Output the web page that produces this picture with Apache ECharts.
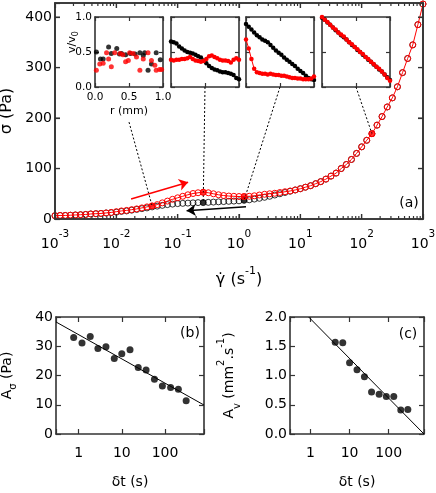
<!DOCTYPE html>
<html>
<head>
<meta charset="utf-8">
<script src="https://cdn.jsdelivr.net/npm/echarts@6/dist/echarts.min.js"></script>
<style>
  html, body { margin: 0; padding: 0; background: #fff; }
  #chart { width: 436px; height: 493px; }
</style>
</head>
<body>
<div id="chart"></div>
<script>
// (a) flow curve: up sweep (red) and down sweep (black)
const shearRate = [
  1e-3, 1.21e-3, 1.47e-3, 1.78e-3, 2.15e-3, 2.61e-3, 3.16e-3, 3.83e-3, 4.64e-3, 5.62e-3, 6.81e-3, 8.25e-3,
  1e-2, 1.21e-2, 1.47e-2, 1.78e-2, 2.15e-2, 2.61e-2, 3.16e-2, 3.83e-2, 4.64e-2, 5.62e-2, 6.81e-2, 8.25e-2,
  0.1, 0.121, 0.147, 0.178, 0.215, 0.261, 0.316, 0.383, 0.464, 0.562, 0.681, 0.825,
  1, 1.21, 1.47, 1.78, 2.15, 2.61, 3.16, 3.83, 4.64, 5.62, 6.81, 8.25,
  10, 12.1, 14.7, 17.8, 21.5, 26.1, 31.6, 38.3, 46.4, 56.2, 68.1, 82.5,
  100, 121, 147, 178, 215, 261, 316, 383, 464, 562, 681, 825,
  1000
];
const stressUp = [
  6.5, 7, 7, 7.5, 8, 8.5, 9, 10, 10.5, 11, 12, 13,
  14.5, 16, 17, 18.5, 20, 22, 24, 26, 28.5, 32, 35.5, 39,
  42, 45, 48, 50.5, 52, 53, 52, 50, 48, 46.5, 45.5, 45,
  44.5, 44.5, 45, 46, 47.5, 49, 50, 51, 52.5, 54, 55.5, 57.5,
  60, 63, 66, 70, 74, 79, 85, 91, 100, 108, 118, 130,
  143, 156, 169, 186, 203, 222, 240, 262, 290, 318, 345, 385,
  426
];
const stressDown = [
  6.5, 7, 7, 7.5, 8, 8.5, 9, 10, 10.5, 11, 12, 12.5,
  13.5, 15, 16, 17.5, 19, 20.5, 22, 24, 25.5, 27, 28.5, 29.5,
  30.5, 31, 31.5, 32, 32.5, 32.5, 33, 33.5, 34, 34.5, 35, 35.5,
  36, 37, 38, 39.5, 41, 43, 45, 47.5, 50, 52.5, 55, 57.5,
  60, 63, 66, 70, 74, 79, 85, 91, 100, 108, 118, 130,
  143, 156, 169, 186, 203, 222, 240, 262, 290, 318, 345, 385,
  426
];
// points whose velocity profiles are shown in the insets
const insetIdx = [19, 29, 37, 62];
const insetOnDown = [false, true, true, false];
// where each dotted connector leaves its inset, in (a) coordinates
const connectorFrom = [[0.0161, 192], [0.279, 261.6], [4.66, 261.6], [80.8, 261.6]];

const upArrow = [[0.0174, 39.6], [0.148, 73]];
const downArrow = [[1.3, 24.4], [0.14, 16.4]];

// insets: v/v0 versus r (mm)
const inset1BlackR = [0.02, 0.08, 0.12, 0.20, 0.24, 0.32, 0.36, 0.39, 0.45, 0.52, 0.59, 0.66, 0.71, 0.73, 0.78, 0.83, 0.90, 0.96];
const inset1BlackV = [0.50, 0.40, 0.40, 0.57, 0.48, 0.55, 0.47, 0.48, 0.46, 0.48, 0.47, 0.49, 0.45, 0.49, 0.24, 0.33, 0.49, 0.39];
const inset1RedR = [0.02, 0.07, 0.12, 0.17, 0.20, 0.24, 0.29, 0.37, 0.41, 0.45, 0.49, 0.51, 0.56, 0.61, 0.66, 0.71, 0.78, 0.83, 0.88, 0.90, 0.95, 0.98];
const inset1RedV = [0.24, 0.33, 0.34, 0.49, 0.40, 0.29, 0.49, 0.48, 0.46, 0.36, 0.38, 0.49, 0.48, 0.43, 0.24, 0.40, 0.49, 0.38, 0.31, 0.24, 0.25, 0.25];

const rProfile = [0, 0.04, 0.08, 0.12, 0.16, 0.2, 0.24, 0.28, 0.32, 0.36, 0.4, 0.44, 0.48, 0.52, 0.56, 0.6, 0.64, 0.68, 0.72, 0.76, 0.8, 0.84, 0.88, 0.92, 0.96, 1];
const inset2Black = [0.65, 0.64, 0.62, 0.58, 0.55, 0.52, 0.50, 0.49, 0.48, 0.46, 0.44, 0.42, 0.38, 0.34, 0.30, 0.27, 0.25, 0.24, 0.22, 0.21, 0.21, 0.20, 0.19, 0.17, 0.13, 0.11];
const inset2Red = [0.39, 0.38, 0.39, 0.39, 0.40, 0.40, 0.41, 0.43, 0.40, 0.38, 0.37, 0.36, 0.37, 0.40, 0.44, 0.45, 0.43, 0.41, 0.39, 0.38, 0.38, 0.37, 0.35, 0.39, 0.41, 0.39];
const inset3Black = [0.90, 0.86, 0.82, 0.78, 0.74, 0.71, 0.68, 0.66, 0.64, 0.60, 0.56, 0.52, 0.49, 0.46, 0.42, 0.39, 0.36, 0.33, 0.30, 0.26, 0.23, 0.20, 0.16, 0.13, 0.11, 0.10];
const inset3Red = [0.68, 0.55, 0.40, 0.26, 0.21, 0.20, 0.19, 0.19, 0.18, 0.19, 0.18, 0.17, 0.17, 0.16, 0.16, 0.15, 0.14, 0.13, 0.13, 0.12, 0.12, 0.11, 0.11, 0.11, 0.12, 0.15];
const inset4Black = [0.99, 0.96, 0.92, 0.89, 0.85, 0.81, 0.78, 0.74, 0.71, 0.68, 0.64, 0.60, 0.57, 0.53, 0.50, 0.46, 0.43, 0.39, 0.36, 0.32, 0.29, 0.25, 0.22, 0.18, 0.14, 0.10];
const inset4Red = [1.0, 0.96, 0.93, 0.89, 0.85, 0.82, 0.78, 0.75, 0.72, 0.68, 0.64, 0.61, 0.57, 0.54, 0.50, 0.47, 0.43, 0.40, 0.36, 0.33, 0.29, 0.26, 0.22, 0.18, 0.13, 0.09];

// (b) and (c): amplitudes versus time window
const deltaT = [0.77, 1.2, 1.86, 2.8, 4.3, 6.7, 10, 15.5, 24, 36.5, 57, 87, 135, 204, 309];
const ampStress = [33.0, 31.1, 33.3, 29.2, 29.8, 25.8, 27.4, 28.8, 22.7, 21.9, 18.7, 16.4, 15.9, 15.3, 11.4];
const deltaTVel = [4.3, 6.7, 10, 15.5, 24, 36.5, 57, 87, 135, 204, 309];
const ampVel = [1.57, 1.56, 1.22, 1.10, 0.98, 0.72, 0.68, 0.64, 0.64, 0.41, 0.42];
const fitStressT = [0.3, 800];
const fitStressA = [38.3, 9.9];
const fitVelT = [0.9, 800];
const fitVelA = [2.0, 0];

// axis ticks of panel (a)
const rateMin = 1e-3;
const rateMax = 1e3;
const decadeStarts = [1e-3, 1e-2, 1e-1, 1, 10, 100, 1000];
const minorSteps = [2, 3, 4, 5, 6, 7, 8, 9];
const stressTicks = [100, 200, 300, 400];

const FONT = "DejaVu Sans";
const INK = "#333";
const RED = "#ff0000";
const STRESS_MAX = 428;

const zip = (xs, ys) => xs.map((x, i) => [x, ys[i]]);

const isDecade = (v) => {
  const e = Math.log10(v);
  return Math.abs(e - Math.round(e)) < 1e-6;
};

// labelled axis plus its mirror (ticks only) for one grid
const axisPair = (dim, gridIndex, spec) => {
  const line = () => ({ show: true, onZero: false, lineStyle: { color: INK, width: 1.6 } });
  const tick = () => ({ show: true, inside: true, length: spec.tickLen || 4, lineStyle: { color: INK, width: 1.2 } });
  const main = Object.assign(
    {
      gridIndex,
      position: dim === "x" ? "bottom" : "left",
      axisLine: line(),
      axisTick: tick(),
      splitLine: { show: false },
      axisLabel: spec.label
        ? Object.assign({ color: "#000", fontFamily: FONT }, spec.label)
        : { show: false }
    },
    spec.scale
  );
  if (spec.name) {
    Object.assign(main, {
      name: spec.name,
      nameLocation: "middle",
      nameGap: spec.nameGap,
      nameRotate: dim === "y" ? 90 : 0,
      nameTextStyle: Object.assign({ color: "#000", fontFamily: FONT }, spec.nameStyle)
    });
  }
  const mirror = Object.assign(
    {
      gridIndex,
      position: dim === "x" ? "top" : "right",
      axisLine: line(),
      axisTick: tick(),
      splitLine: { show: false },
      axisLabel: { show: false }
    },
    spec.scale
  );
  return [main, mirror];
};

const richText = (size, lineHeight) => ({ fontSize: size, lineHeight, fontFamily: FONT, color: "#000" });
const supText = (size) => ({ fontSize: size, lineHeight: 12, verticalAlign: "top", fontFamily: FONT, color: "#000" });
const subText = (size) => ({ fontSize: size, lineHeight: 12, verticalAlign: "bottom", fontFamily: FONT, color: "#000" });

const unitScale = { type: "value", min: 0, max: 1, interval: 0.5 };
const logT = { type: "log", logBase: 10, min: 0.3, max: 800 };

const xAxes = [
  ...axisPair("x", 0, {
    scale: { type: "log", logBase: 10, min: rateMin, max: rateMax },
    tickLen: 5,
    label: {
      margin: 10,
      formatter: (v) => `{b|10}{s|${Math.round(Math.log10(v))}}`,
      rich: { b: richText(14, 30), s: supText(10.5) }
    },
    name: "{t|γ̇ (s}{s|-1}{t|)}",
    nameGap: 47,
    nameStyle: { rich: { t: richText(16, 28), s: supText(11) } }
  }),
  ...axisPair("x", 1, {
    scale: unitScale,
    label: { fontSize: 10.5, margin: 5, formatter: (v) => v.toFixed(1) },
    name: "r (mm)",
    nameGap: 19,
    nameStyle: { fontSize: 11 }
  }),
  ...axisPair("x", 2, { scale: unitScale }),
  ...axisPair("x", 3, { scale: unitScale }),
  ...axisPair("x", 4, { scale: unitScale }),
  ...axisPair("x", 5, {
    scale: logT,
    tickLen: 5,
    label: { fontSize: 14, margin: 12, formatter: (v) => (isDecade(v) ? String(Math.round(v)) : "") },
    name: "δt (s)",
    nameGap: 41,
    nameStyle: { fontSize: 14 }
  }),
  ...axisPair("x", 6, {
    scale: logT,
    tickLen: 5,
    label: { fontSize: 14, margin: 12, formatter: (v) => (isDecade(v) ? String(Math.round(v)) : "") },
    name: "δt (s)",
    nameGap: 41,
    nameStyle: { fontSize: 14 }
  })
];

const yAxes = [
  ...axisPair("y", 0, {
    scale: { type: "value", min: 0, max: STRESS_MAX, interval: 100 },
    tickLen: 5,
    label: { fontSize: 14, margin: 3, formatter: (v) => (v % 100 === 0 ? String(v) : "") },
    name: "σ (Pa)",
    nameGap: 39,
    nameStyle: { fontSize: 16 }
  }),
  ...axisPair("y", 1, {
    scale: unitScale,
    label: { fontSize: 10.5, margin: 3, formatter: (v) => v.toFixed(1) }
  }),
  ...axisPair("y", 2, { scale: unitScale }),
  ...axisPair("y", 3, { scale: unitScale }),
  ...axisPair("y", 4, { scale: unitScale }),
  ...axisPair("y", 5, {
    scale: { type: "value", min: 0, max: 40, interval: 10 },
    tickLen: 5,
    label: { fontSize: 14, margin: 3 },
    name: "{t|A}{b|σ}{t| (Pa)}",
    nameGap: 38,
    nameStyle: { rich: { t: richText(14, 22), b: subText(10) } }
  }),
  ...axisPair("y", 6, {
    scale: { type: "value", min: 0, max: 2, interval: 0.5 },
    tickLen: 5,
    label: { fontSize: 14, margin: 3, formatter: (v) => v.toFixed(1) },
    name: "{t|A}{b|v}{t| (mm}{s|2}{t|.s}{s|-1}{t|)}",
    nameGap: 48,
    nameStyle: { rich: { t: richText(14, 26), b: subText(10), s: supText(10) } }
  })
];

const onGrid = (g) => ({ xAxisIndex: 2 * g, yAxisIndex: 2 * g });

const connector = (k) => {
  const idx = insetIdx[k];
  return Object.assign({}, onGrid(0), {
    type: "line",
    data: [connectorFrom[k], [shearRate[idx], insetOnDown[k] ? stressDown[idx] : stressUp[idx]]],
    symbol: "none",
    lineStyle: { color: "#000", width: 1, type: [2, 2] },
    silent: true
  });
};

const arrowLine = (color, pts) => ({
  silent: true,
  animation: false,
  symbol: ["none", "arrow"],
  symbolSize: 9,
  label: { show: false },
  lineStyle: { color, width: 1.5, type: "solid" },
  data: [[{ coord: pts[0] }, { coord: pts[1] }]]
});

const insetDot = (g, color, rs, vs) =>
  Object.assign({}, onGrid(g), {
    type: "scatter",
    data: zip(rs, vs),
    symbol: "circle",
    symbolSize: 5,
    itemStyle: { color },
    silent: true
  });
const insetLine = (g, color, values) =>
  Object.assign({}, onGrid(g), {
    type: "line",
    data: zip(rProfile, values),
    symbol: "circle",
    symbolSize: 4.5,
    showAllSymbol: true,
    itemStyle: { color },
    lineStyle: { color, width: 1 },
    silent: true
  });

const series = [
  connector(0),
  connector(1),
  connector(2),
  connector(3),
  Object.assign({}, onGrid(0), {
    type: "scatter",
    data: zip(shearRate, stressDown),
    symbol: "circle",
    symbolSize: 6,
    itemStyle: { color: "rgba(0,0,0,0)", borderColor: "#000", borderWidth: 1 },
    silent: true,
    markLine: arrowLine("#000", downArrow)
  }),
  Object.assign({}, onGrid(0), {
    type: "line",
    data: zip(shearRate, stressUp),
    symbol: "circle",
    symbolSize: 6,
    showAllSymbol: true,
    itemStyle: { color: "rgba(255,255,255,0)", borderColor: RED, borderWidth: 1 },
    lineStyle: { color: RED, width: 1 },
    silent: true,
    markLine: arrowLine(RED, upArrow)
  }),
  Object.assign({}, onGrid(0), {
    type: "scatter",
    data: insetIdx.filter((_, k) => insetOnDown[k]).map((i) => [shearRate[i], stressDown[i]]),
    symbol: "circle",
    symbolSize: 6,
    itemStyle: { color: "#000" },
    silent: true
  }),
  Object.assign({}, onGrid(0), {
    type: "scatter",
    data: insetIdx.map((i) => [shearRate[i], stressUp[i]]),
    symbol: "circle",
    symbolSize: 6.5,
    itemStyle: { color: RED },
    silent: true
  }),

  insetDot(1, "#000", inset1BlackR, inset1BlackV),
  insetDot(1, RED, inset1RedR, inset1RedV),
  insetLine(2, "#000", inset2Black),
  insetLine(2, RED, inset2Red),
  insetLine(3, "#000", inset3Black),
  insetLine(3, RED, inset3Red),
  insetLine(4, "#000", inset4Black),
  insetLine(4, RED, inset4Red),

  Object.assign({}, onGrid(5), {
    type: "line",
    data: zip(fitStressT, fitStressA),
    symbol: "none",
    lineStyle: { color: "#000", width: 1 },
    silent: true
  }),
  Object.assign({}, onGrid(5), {
    type: "scatter",
    data: zip(deltaT, ampStress),
    symbol: "circle",
    symbolSize: 7,
    itemStyle: { color: "#000" },
    silent: true
  }),
  Object.assign({}, onGrid(6), {
    type: "line",
    data: zip(fitVelT, fitVelA),
    symbol: "none",
    lineStyle: { color: "#000", width: 1 },
    silent: true
  }),
  Object.assign({}, onGrid(6), {
    type: "scatter",
    data: zip(deltaTVel, ampVel),
    symbol: "circle",
    symbolSize: 7,
    itemStyle: { color: "#000" },
    silent: true
  })
];

const chart = echarts.init(document.getElementById("chart"));

chart.setOption({
  animation: false,
  grid: [
    { left: 55, top: 3, width: 368, height: 216, outerBoundsMode: "none" },
    { left: 95, top: 17, width: 68, height: 70, outerBoundsMode: "none" },
    { left: 171, top: 17, width: 68, height: 70, outerBoundsMode: "none" },
    { left: 246, top: 17, width: 68, height: 70, outerBoundsMode: "none" },
    { left: 322, top: 17, width: 68, height: 70, outerBoundsMode: "none" },
    { left: 56, top: 317, width: 148, height: 117, outerBoundsMode: "none" },
    { left: 290, top: 317, width: 134, height: 117, outerBoundsMode: "none" }
  ],
  xAxis: xAxes,
  yAxis: yAxes,
  series
});

// frame and ticks of panel (a), placed through the panel's own axes
const toPx = (x, y) => chart.convertToPixel(onGrid(0), [x, y]);
const frameStyle = { stroke: INK, lineWidth: 1.6, fill: null };
const tickStyle = { stroke: INK, lineWidth: 1.2 };
const frameEls = [];
const [frameLeft, frameBottom] = toPx(rateMin, 0);
const [frameRight, frameTop] = toPx(rateMax, STRESS_MAX);
frameEls.push({
  type: "rect",
  z: 50,
  silent: true,
  shape: { x: frameLeft, y: frameTop, width: frameRight - frameLeft, height: frameBottom - frameTop },
  style: frameStyle
});
const vTick = (x, len) => {
  frameEls.push({ type: "line", z: 50, silent: true, shape: { x1: x, y1: frameBottom, x2: x, y2: frameBottom - len }, style: tickStyle });
  frameEls.push({ type: "line", z: 50, silent: true, shape: { x1: x, y1: frameTop, x2: x, y2: frameTop + len }, style: tickStyle });
};
decadeStarts.forEach((d) => {
  vTick(toPx(d, 0)[0], 5);
  if (d < rateMax) minorSteps.forEach((m) => vTick(toPx(m * d, 0)[0], 3));
});
stressTicks.forEach((s) => {
  const y = toPx(rateMin, s)[1];
  frameEls.push({ type: "line", z: 50, silent: true, shape: { x1: frameLeft, y1: y, x2: frameLeft + 5, y2: y }, style: tickStyle });
  frameEls.push({ type: "line", z: 50, silent: true, shape: { x1: frameRight, y1: y, x2: frameRight - 5, y2: y }, style: tickStyle });
});

const panelLabel = (text, x, y) => ({
  type: "text",
  x,
  y,
  silent: true,
  style: { text, fontSize: 14, fontFamily: FONT, fill: "#000", align: "center", verticalAlign: "middle" }
});

chart.setOption({
  graphic: {
    elements: [
      ...frameEls,
      panelLabel("(a)", 409, 203),
      panelLabel("(b)", 190, 333),
      panelLabel("(c)", 408, 334),
      {
        type: "text",
        x: 72,
        y: 42,
        rotation: Math.PI / 2,
        silent: true,
        style: {
          text: "{t|v/v}{b|0}",
          align: "center",
          verticalAlign: "middle",
          rich: { t: richText(11, 16), b: subText(8) }
        }
      }
    ]
  }
});
</script>
</body>
</html>
